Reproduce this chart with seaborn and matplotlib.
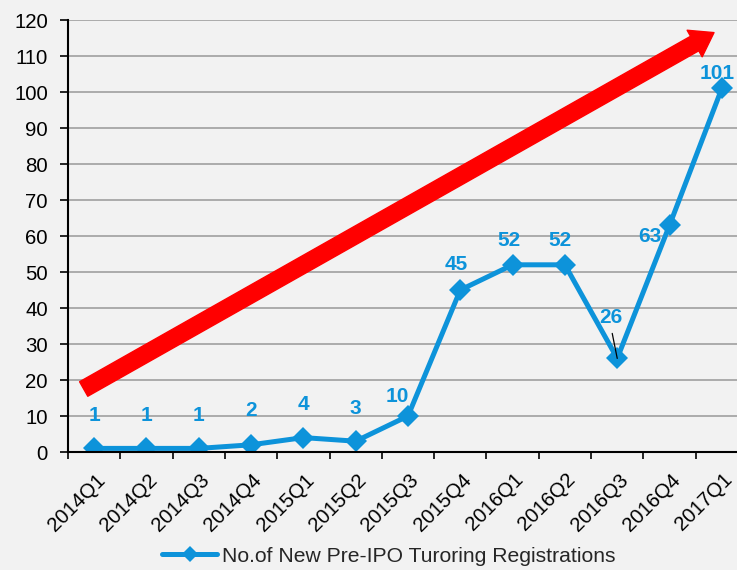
import matplotlib
matplotlib.use("Agg")
import matplotlib.pyplot as plt
import matplotlib.transforms as mtransforms
import seaborn as sns
import pandas as pd
from matplotlib.lines import Line2D

quarters = ["2014Q1", "2014Q2", "2014Q3", "2014Q4", "2015Q1", "2015Q2", "2015Q3",
            "2015Q4", "2016Q1", "2016Q2", "2016Q3", "2016Q4", "2017Q1"]
registrations = [1, 1, 1, 2, 4, 3, 10, 45, 52, 52, 26, 63, 101]
series_name = "No.of New Pre-IPO Turoring Registrations"
y_ticks = list(range(0, 121, 10))

BLUE = "#0D93DA"
BG = "#F2F2F2"

sns.set_theme(style="white")
plt.rcParams["font.family"] = ["Liberation Sans", "DejaVu Sans"]

df = pd.DataFrame({"idx": range(len(quarters)), "quarter": quarters, "value": registrations})

fig = plt.figure(figsize=(7.37, 5.70), dpi=100, facecolor=BG)
ax = fig.add_axes([68 / 737, 118 / 570, 680 / 737, 432 / 570])
ax.set_facecolor(BG)

sns.lineplot(data=df, x="idx", y="value", ax=ax, color=BLUE, lw=3.6, marker="D",
             markersize=11, markeredgewidth=0, sort=False, legend=False)

ax.set_xlim(-0.5, len(quarters) - 0.5)
ax.set_ylim(0, 120)
ax.set_yticks(y_ticks)
ax.set_xticks(range(len(quarters)))
ax.set_xticklabels(quarters, rotation=45, ha="right", rotation_mode="anchor")
ax.set_xticks([i - 0.5 for i in range(len(quarters) + 1)], minor=True)
ax.tick_params(axis="x", which="major", length=0, pad=13, labelsize=14.7, colors="black")
ax.tick_params(axis="x", which="minor", length=5, width=1.2, color="black", direction="out", bottom=True)
ax.tick_params(axis="y", length=5.5, width=1.2, color="black", direction="out", left=True,
               pad=9, labelsize=14.7, labelcolor="black")
shift = mtransforms.ScaledTranslation(1 / 100, 0, fig.dpi_scale_trans)
for lbl in ax.get_xticklabels():
    lbl.set_transform(lbl.get_transform() + shift)
ax.set_xlabel("")
ax.set_ylabel("")

ax.grid(axis="y", color="#A6A6A6", lw=1.3)
ax.grid(axis="x", visible=False)
ax.set_axisbelow(True)
for s in ["top", "right"]:
    ax.spines[s].set_visible(False)
for s in ["left", "bottom"]:
    ax.spines[s].set_color("black")
    ax.spines[s].set_linewidth(1.5)
    ax.spines[s].set_zorder(3)

# red trend arrow
ax.annotate("", xy=(11.85, 116.5), xytext=(-0.2, 17.5),
            arrowprops=dict(arrowstyle="simple,head_width=1.1,head_length=0.8,tail_width=0.6",
                            color="#FF0000", mutation_scale=20, shrinkA=0, shrinkB=0), zorder=2)

# data labels (offsets in pixels)
offsets = [(0, 33), (0, 33), (0, 33), (0, 34), (0, 33), (0, 33), (-11, 19), (-4, 25),
           (-4, 24), (-5, 24), (-6, 41), (-20, -11), (-5, 15)]
for i, (v, (dx, dy)) in enumerate(zip(registrations, offsets)):
    ax.annotate(str(v), xy=(i, v), xytext=(dx * 0.72, dy * 0.72), textcoords="offset points",
                ha="center", va="center", color=BLUE, fontsize=15, fontweight="bold", zorder=5)

# leader line for 26
ax.annotate("", xy=(10, 26), xytext=(-5 * 0.72, 25 * 0.72), textcoords="offset points",
            arrowprops=dict(arrowstyle="-", color="black", lw=0.9, shrinkA=0, shrinkB=0), zorder=6)

handle = Line2D([], [], color=BLUE, lw=3.6, marker="D", markersize=8, markeredgewidth=0)
fig.legend([handle], [series_name], loc="center", bbox_to_anchor=(389 / 737, 14 / 570),
           frameon=False, fontsize=15.2, handlelength=2.6, handletextpad=0.25)

fig.savefig("out.png", dpi=100, facecolor=BG)
